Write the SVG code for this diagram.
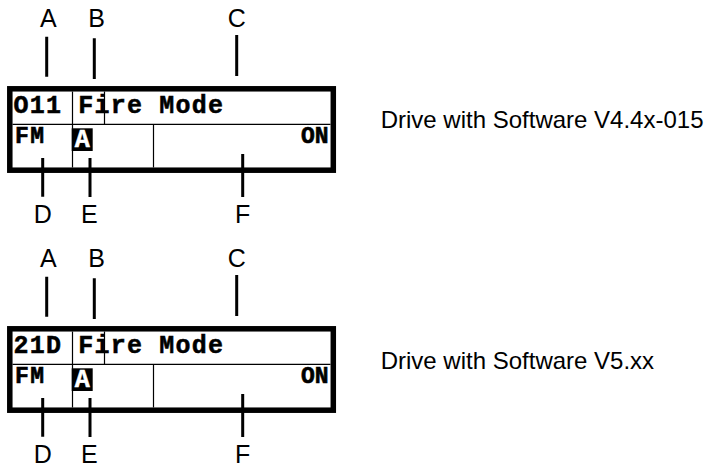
<svg xmlns="http://www.w3.org/2000/svg" width="705" height="464" viewBox="0 0 705 464">
<style>
.lbl{font-family:"Liberation Sans",Arial,sans-serif;font-size:25px;fill:#000;text-anchor:middle}
.cap{font-family:"Liberation Sans",Arial,sans-serif;font-size:24px;fill:#000}
.lcd1{font-family:"Courier New","Liberation Mono",monospace;font-weight:bold;font-size:25px;letter-spacing:1.2px;fill:#000;stroke:#000;stroke-width:0.5}
.lcd2{font-family:"Courier New","Liberation Mono",monospace;font-weight:bold;font-size:23px;letter-spacing:1.5px;fill:#000;stroke:#000;stroke-width:0.6}
.inv{font-family:"Courier New","Liberation Mono",monospace;font-weight:bold;font-size:25px;fill:#fff;stroke:#fff;stroke-width:0.5;text-anchor:middle}
.frame{fill:#fff;stroke:#000;stroke-width:5.5}
.div{stroke:#000;stroke-width:1.2;fill:none}
.ptr{stroke:#000;stroke-width:3;fill:none}
</style>
<defs>
<g id="panel">
  <g id="display">
    <rect class="frame" x="9.8" y="88.8" width="323.5" height="81.4"/>
    <path class="div" d="M12.5 124.3H330.5M72.5 91.5V167.5M153.5 124.3V167.5M104.5 91.5V125"/>
    <text class="lcd2" x="15" y="142.5">FM</text>
    <rect x="71.7" y="128.3" width="21" height="22.7" fill="#000"/>
    <text class="inv" x="82.2" y="147">A</text>
    <text class="lcd2" x="328.5" y="142.5" text-anchor="end" style="letter-spacing:0">ON</text>
  </g>
  <g id="pointers">
    <path class="ptr" d="M46.7 36.7V76.7M94.3 38.3V79M236.7 35V76M42.7 158V196.7M90 158V197M242.7 154V197"/>
  </g>
  <g id="labels">
    <text class="lbl" x="48.3" y="26.7">A</text>
    <text class="lbl" x="96.7" y="26.7">B</text>
    <text class="lbl" x="236.7" y="26.7">C</text>
    <text class="lbl" x="42.7" y="222.7">D</text>
    <text class="lbl" x="89.3" y="222.7">E</text>
    <text class="lbl" x="242.7" y="222.7">F</text>
  </g>
</g>
</defs>
<g id="panel-v44">
  <use href="#panel"/>
  <text class="lcd1" x="13.5" y="113">O11 Fire Mode</text>
  <text id="caption-v44" class="cap" x="380.7" y="128.3">Drive with Software V4.4x-015</text>
</g>
<g id="panel-v5" transform="translate(0,240)">
  <use href="#panel"/>
  <text class="lcd1" x="13.5" y="113">21D Fire Mode</text>
  <text id="caption-v5" class="cap" x="380.7" y="129.3">Drive with Software V5.xx</text>
</g>
</svg>
